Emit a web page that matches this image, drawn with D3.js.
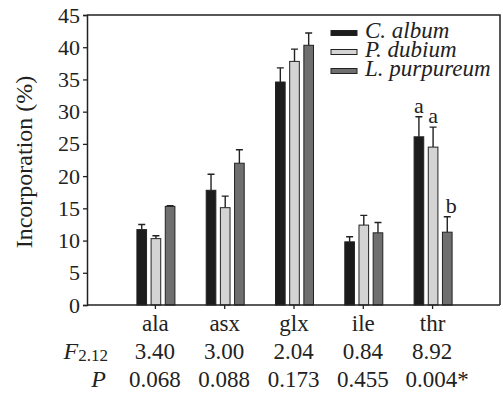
<!DOCTYPE html>
<html>
<head>
  <meta charset="utf-8">
  <style>
    body { margin: 0; background: #fff; }
    svg { display: block; }
    svg text { font-family: "Liberation Serif", "Times New Roman", Times, "DejaVu Serif", serif !important; }
  </style>
</head>
<body>
  <div id="chart"></div>
  <script src="https://d3js.org/d3.v7.min.js"></script>
  <script>
    // data
    var categories = ["ala", "asx", "glx", "ile", "thr"]
    var species = ["C. album", "P. dubium", "L. purpureum"]
    var cAlbum = [11.7, 17.8, 34.6, 9.8, 26.1]
    var cAlbumErr = [0.8, 2.5, 2.2, 0.8, 3.1]
    var pDubium = [10.3, 15.1, 37.8, 12.4, 24.5]
    var pDubiumErr = [0.45, 1.8, 1.9, 1.5, 3.1]
    var lPurpureum = [15.3, 22.0, 40.3, 11.2, 11.3]
    var lPurpureumErr = [0.1, 2.1, 1.9, 1.6, 2.4]
    var fValues = ["3.40", "3.00", "2.04", "0.84", "8.92"]
    var pValues = ["0.068", "0.088", "0.173", "0.455", "0.004*"]
    var thrLetters = ["a", "a", "b"]
    var yTicks = [0, 5, 10, 15, 20, 25, 30, 35, 40, 45]

    var means = [cAlbum, pDubium, lPurpureum]
    var errs = [cAlbumErr, pDubiumErr, lPurpureumErr]
    var fills = ["#1c1c1c", "#d4d4d4", "#6f6f6f"]

    var margin = {top: 15, right: 3, bottom: 88, left: 87}
    var W = 503, H = 393
    var width = W - margin.left - margin.right
    var height = H - margin.top - margin.bottom

    var svg = d3.select("#chart").append("svg")
        .attr("width", W)
        .attr("height", H)
    var g = svg.append("g")
        .attr("transform", "translate(" + margin.left + "," + margin.top + ")")

    var x = d3.scalePoint()
        .domain(categories)
        .range([0, width])
        .padding(0.98)

    var xs = d3.scaleBand()
        .domain(species)
        .range([-18, 20])
        .paddingInner(0.32)

    var y = d3.scaleLinear()
        .domain([0, 45])
        .range([height, 0])

    // frame (top and right)
    g.append("path")
        .attr("d", "M0,0H" + width + "V" + height)
        .attr("fill", "none")
        .attr("stroke", "#222")
        .attr("stroke-width", 1.5)

    // bars
    var rows = []
    species.forEach(function(s, si) {
      categories.forEach(function(c, ci) {
        rows.push({sp: s, si: si, cat: c, v: means[si][ci], e: errs[si][ci]})
      })
    })

    var bar = g.selectAll("g.bar")
        .data(rows)
        .enter()
        .append("g")
        .attr("class", "bar")

    bar.append("path")
        .attr("d", function(d) {
          var cx = x(d.cat) + xs(d.sp) + xs.bandwidth() / 2
          var half = 3.5
          return "M" + cx + "," + y(d.v) + "V" + y(d.v + d.e) +
                 "M" + (cx - half) + "," + y(d.v + d.e) + "H" + (cx + half)
        })
        .attr("stroke", "#222")
        .attr("stroke-width", 1.4)
        .attr("fill", "none")

    bar.append("rect")
        .attr("x", d => x(d.cat) + xs(d.sp))
        .attr("y", d => y(d.v))
        .attr("width", xs.bandwidth())
        .attr("height", d => height - y(d.v))
        .attr("fill", d => fills[d.si])
        .attr("stroke", "#222")
        .attr("stroke-width", 1)

    // significance letters for thr
    g.selectAll("text.sig")
        .data(thrLetters)
        .enter()
        .append("text")
        .attr("class", "sig")
        .attr("x", (d, i) => x("thr") + xs(species[i]) + xs.bandwidth() / 2 + (i == 2 ? 4 : 0))
        .attr("y", (d, i) => y(means[i][4] + errs[i][4]) - 4)
        .attr("text-anchor", "middle")
        .attr("font-size", 22)
        .attr("fill", "#222")
        .text(d => d)

    // y axis
    var yAxis = g.append("g")
        .call(d3.axisLeft(y).tickValues(yTicks).tickSize(4).tickPadding(3))
    yAxis.select(".domain").attr("stroke", "#222").attr("stroke-width", 1.5)
    yAxis.selectAll(".tick line").attr("stroke", "#222").attr("stroke-width", 1.3)
    yAxis.selectAll(".tick text")
        .attr("font-size", 22)
        .attr("fill", "#222")

    // x axis
    var xAxis = g.append("g")
        .attr("transform", "translate(0," + height + ")")
        .call(d3.axisBottom(x).tickSize(4).tickPadding(4))
    xAxis.select(".domain").attr("stroke", "#222").attr("stroke-width", 1.5)
        .attr("d", "M0,0H" + width)
    xAxis.selectAll(".tick line").attr("stroke", "#222").attr("stroke-width", 1.3)
    xAxis.selectAll(".tick text")
        .attr("font-size", 23)
        .attr("fill", "#222")
        .attr("y", 26)
        .attr("dy", 0)

    // F and P rows
    g.selectAll("text.fval")
        .data(fValues)
        .enter()
        .append("text")
        .attr("x", (d, i) => x(categories[i]))
        .attr("y", height + 54)
        .attr("text-anchor", "middle")
        .attr("font-size", 23)
        .attr("fill", "#222")
        .text(d => d)

    g.selectAll("text.pval")
        .data(pValues)
        .enter()
        .append("text")
        .attr("x", (d, i) => x(categories[i]) + (d.slice(-1) == "*" ? 5 : 0))
        .attr("y", height + 82)
        .attr("text-anchor", "middle")
        .attr("font-size", 23)
        .attr("fill", "#222")
        .text(d => d)

    var fLab = g.append("text")
        .attr("x", 21)
        .attr("y", height + 54)
        .attr("text-anchor", "end")
        .attr("fill", "#222")
    fLab.append("tspan").attr("font-style", "italic").attr("font-size", 24).text("F")
    fLab.append("tspan").attr("font-size", 17).attr("dy", 2).text("2.12")

    g.append("text")
        .attr("x", 19)
        .attr("y", height + 82)
        .attr("text-anchor", "end")
        .attr("font-style", "italic")
        .attr("font-size", 24)
        .attr("fill", "#222")
        .text("P")

    // y title
    g.append("text")
        .attr("transform", "translate(" + (-55) + "," + (height / 2 + 2) + ") rotate(-90)")
        .attr("text-anchor", "middle")
        .attr("font-size", 24)
        .attr("fill", "#222")
        .text("Incorporation (%)")

    // legend
    var legend = g.append("g")
        .attr("transform", "translate(" + (width - 169) + ",18)")
    var item = legend.selectAll("g")
        .data(species)
        .enter()
        .append("g")
        .attr("transform", (d, i) => "translate(0," + (i * 19) + ")")
    item.append("rect")
        .attr("x", 0)
        .attr("y", -2.5)
        .attr("width", 26)
        .attr("height", 5)
        .attr("fill", (d, i) => fills[i])
        .attr("stroke", "#222")
        .attr("stroke-width", 1)
    item.append("text")
        .attr("x", 34)
        .attr("y", 5)
        .attr("font-style", "italic")
        .attr("font-size", 23)
        .attr("fill", "#222")
        .text(d => d)
  </script>
</body>
</html>
